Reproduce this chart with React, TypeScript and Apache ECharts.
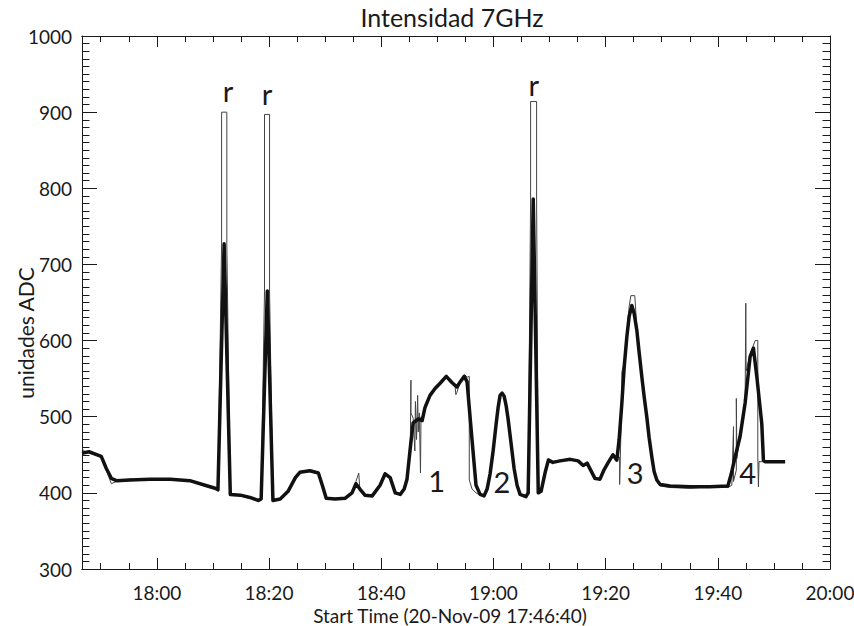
import React, { useEffect, useRef } from "react";
import * as echarts from "echarts";

// Time in minutes after 17:00 (20-Nov-09); axis spans 17:46:40 .. 20:00
const smoothMinutes = [
  46.67, 47.9, 50.1, 51.0, 51.9, 52.8, 55.2, 58.8, 62.4, 65.9,
  68.6, 70.4, 70.9, 72.0, 73.1, 74.9, 76.6, 78.1, 78.6, 79.7,
  80.7, 82.0, 83.4, 84.7, 85.5, 87.3, 88.8, 89.5, 90.2, 91.8,
  93.6, 94.8, 95.5, 96.2, 97.1, 98.4, 99.8, 100.7, 101.6, 102.5,
  103.4, 104.1, 104.6, 105.2, 105.7, 106.6, 107.3, 107.8, 108.7, 109.6,
  110.5, 111.6, 112.6, 113.5, 114.1, 114.8, 115.3, 116.2, 116.9, 117.63,
  118.34, 118.88, 119.41, 119.95, 120.48, 120.84, 121.19, 121.55, 121.91, 122.26,
  122.62, 123.15, 123.69, 124.22, 124.76, 125.8, 126.2, 127.1, 128.0, 128.5,
  129.2, 129.8, 130.6, 131.9, 133.7, 135.1, 136.0, 136.7, 138.1, 139.0,
  139.7, 140.4, 141.3, 142.0, 142.41, 142.9, 143.31, 143.79, 144.2, 144.67,
  145.08, 145.56, 145.97, 146.45, 146.86, 147.34, 147.75, 148.24, 148.65, 149.13,
  149.72, 151.5, 155.1, 158.6, 161.8, 162.4, 163.08, 163.97, 164.87, 165.76,
  166.35, 166.95, 167.84, 168.13, 168.43, 172.0,
];
const smoothValues = [
  452, 454, 448, 432, 419, 416, 417, 418, 418, 416,
  410, 406, 404, 727, 398, 397, 394, 390, 392, 665,
  390, 392, 402, 420, 427, 429, 426, 410, 393, 392,
  393, 400, 412, 405, 397, 396, 410, 425, 420, 400,
  398, 405, 418, 460, 492, 497, 495, 512, 528, 537,
  544, 553, 545, 539, 546, 553, 546, 469, 410, 398,
  396, 405, 425, 455, 490, 512, 528, 531, 527, 515,
  497, 465, 432, 410, 398, 395, 400, 786, 400, 402,
  426, 443, 440, 442, 444, 442, 436, 439, 419, 418,
  430, 439, 450, 443, 470, 518, 565, 605, 632, 646,
  636, 614, 585, 553, 527, 500, 473, 447, 428, 417,
  411, 409, 408, 408, 409, 425, 447, 474, 518, 579,
  590, 553, 491, 443, 441, 441,
];

const rawMinutes = [
  46.67, 47.5, 48.0, 50.1, 51.0, 51.9, 52.8, 55.2, 58.8, 62.4,
  65.9, 68.6, 70.4, 70.9, 71.55, 71.55, 72.48, 72.48, 73.1, 74.9,
  76.6, 78.1, 78.6, 79.2, 79.2, 80.1, 80.1, 80.7, 82.0, 83.4,
  84.7, 85.5, 87.3, 88.8, 89.5, 90.2, 91.8, 93.6, 94.8, 95.5,
  96.0, 96.2, 97.1, 98.4, 99.8, 100.7, 101.6, 102.5, 103.4, 104.1,
  104.6, 105.2, 105.3, 105.3, 105.7, 106.0, 106.1, 106.3, 106.5, 106.6,
  106.8, 107.0, 107.1, 107.3, 107.8, 108.7, 109.6, 110.5, 111.6, 112.6,
  113.2, 113.3, 113.5, 114.1, 114.8, 115.4, 115.7, 115.7, 116.2, 116.9,
  117.63, 118.34, 118.88, 119.41, 119.95, 120.48, 120.84, 121.19, 121.55, 121.91,
  122.26, 122.62, 123.15, 123.69, 124.22, 124.76, 125.8, 126.2, 126.63, 126.63,
  127.7, 127.7, 128.0, 128.5, 129.2, 129.8, 130.6, 131.9, 133.7, 135.1,
  136.0, 136.7, 138.1, 139.0, 139.7, 140.4, 141.3, 142.0, 142.5, 142.5,
  142.7, 142.9, 142.9, 143.31, 143.79, 144.2, 144.5, 145.2, 145.56, 145.97,
  146.45, 146.86, 147.34, 147.75, 148.24, 148.65, 149.13, 149.72, 151.5, 155.1,
  158.6, 161.8, 162.5, 162.8, 162.8, 163.3, 163.3, 163.4, 163.97, 164.87,
  164.99, 165.05, 165.76, 166.65, 167.13, 167.13, 167.24, 167.24, 167.35, 172.0,
];
const rawValues = [
  458, 452, 455, 446, 430, 412, 415, 418, 417, 419,
  415, 409, 405, 404, 727, 900, 900, 727, 398, 396,
  393, 389, 392, 665, 897, 897, 665, 389, 391, 404,
  422, 428, 430, 425, 408, 392, 393, 392, 401, 415,
  426, 404, 396, 397, 411, 427, 419, 399, 397, 404,
  420, 470, 548, 505, 498, 455, 520, 470, 528, 480,
  505, 426, 500, 493, 515, 530, 536, 545, 552, 546,
  538, 529, 532, 547, 555, 552, 553, 417, 405, 400,
  397, 396, 406, 427, 457, 492, 514, 530, 532, 526,
  513, 495, 463, 430, 408, 397, 396, 402, 786, 914,
  914, 786, 402, 404, 428, 445, 441, 443, 445, 441,
  435, 440, 417, 419, 432, 440, 452, 445, 447, 411,
  470, 518, 559, 570, 608, 645, 659, 659, 618, 588,
  555, 529, 500, 471, 445, 426, 415, 409, 407, 406,
  408, 407, 410, 487, 415, 430, 524, 445, 476, 520,
  649, 560, 582, 600, 600, 447, 447, 408, 441, 440,
];

const xMajorTicks = [60, 80, 100, 120, 140, 160, 180];
const xMinorTicks = [50, 55, 65, 70, 75, 85, 90, 95, 105, 110, 115, 125, 130, 135, 145, 150, 155, 165, 170, 175];

const noteTexts = ["r", "r", "r", "1", "2", "3", "4"];
const noteMinutes = [72.71, 79.63, 127.2, 109.9, 121.5, 145.26, 165.3];
const noteValues = [929, 924, 936, 416, 415, 427, 427];

const X_MIN = 46 + 2 / 3;
const X_MAX = 180;
const FONT = "Lato";
const INK = "#1a1a1a";

const fmtTime = (v: number) => {
  const h = 17 + Math.floor(v / 60);
  const m = Math.round(v % 60);
  return `${h}:${m < 10 ? "0" + m : m}`;
};

export default function App() {
  const ref = useRef<HTMLDivElement>(null);
  useEffect(() => {
    if (!ref.current) return;
    const chart = echarts.init(ref.current, null, { renderer: "svg" });
    const smooth = smoothMinutes.map((t, i) => [t, smoothValues[i]]);
    const raw = rawMinutes.map((t, i) => [t, rawValues[i]]);
    const baseX = {
      type: "value" as const,
      min: X_MIN,
      max: X_MAX,
      splitLine: { show: false },
      axisLine: { show: true, onZero: false, lineStyle: { color: INK, width: 1 } },
    };
    const majorTick = { show: true, inside: true, length: 11, customValues: xMajorTicks, lineStyle: { color: INK } };
    const minorTick = { show: true, inside: true, length: 6, customValues: xMinorTicks, lineStyle: { color: INK } };
    const baseY = {
      type: "value" as const,
      min: 300,
      max: 1000,
      interval: 100,
      splitLine: { show: false },
      axisLine: { show: true, onZero: false, lineStyle: { color: INK, width: 1 } },
      axisTick: { show: true, inside: true, length: 15, lineStyle: { color: INK } },
      minorTick: { show: true, splitNumber: 10, length: 7.5, lineStyle: { color: INK } },
    };
    chart.setOption({
      animation: false,
      backgroundColor: "#ffffff",
      grid: { left: 82, right: 24, top: 36, bottom: 57, containLabel: false, outerBoundsMode: "none" },
      graphic: [
        {
          type: "text",
          x: 452,
          y: 17,
          style: {
            text: "Intensidad 7GHz",
            fontFamily: FONT,
            fontSize: 25,
            fill: INK,
            align: "center",
            verticalAlign: "middle",
          },
        },
        {
          type: "text",
          x: 450,
          y: 615,
          style: {
            text: "Start Time (20-Nov-09 17:46:40)",
            fontFamily: FONT,
            fontSize: 19,
            fill: INK,
            align: "center",
            verticalAlign: "middle",
          },
        },
        {
          type: "text",
          x: 25,
          y: 333,
          rotation: Math.PI / 2,
          style: {
            text: "unidades ADC",
            fontFamily: FONT,
            fontSize: 21,
            fill: INK,
            align: "center",
            verticalAlign: "middle",
          },
        },
      ],
      xAxis: [
        {
          ...baseX,
          position: "bottom",
          axisTick: majorTick,
          axisLabel: {
            show: true,
            customValues: xMajorTicks,
            formatter: (v: number) => fmtTime(v),
            fontFamily: FONT,
            fontSize: 19,
            color: INK,
            margin: 14,
          },
        },
        { ...baseX, position: "bottom", axisTick: minorTick, axisLabel: { show: false } },
        { ...baseX, position: "top", axisTick: majorTick, axisLabel: { show: false } },
        { ...baseX, position: "top", axisTick: minorTick, axisLabel: { show: false } },
      ],
      yAxis: [
        {
          ...baseY,
          position: "left",
          axisLabel: {
            show: true,
            formatter: (v: number) => String(v),
            fontFamily: FONT,
            fontSize: 19,
            color: INK,
            margin: 10,
          },
        },
        { ...baseY, position: "right", axisLabel: { show: false } },
      ],
      series: [
        {
          type: "line",
          data: raw,
          xAxisIndex: 0,
          yAxisIndex: 0,
          showSymbol: false,
          symbol: "none",
          lineStyle: { color: "#444444", width: 1 },
          z: 2,
        },
        {
          type: "line",
          data: smooth,
          xAxisIndex: 0,
          yAxisIndex: 0,
          showSymbol: false,
          symbol: "none",
          lineStyle: { color: "#111111", width: 3.5, join: "round" },
          z: 3,
          markPoint: {
            symbol: "rect",
            symbolSize: 1,
            itemStyle: { color: "rgba(0,0,0,0)" },
            label: {
              show: true,
              position: "inside",
              formatter: (p: any) => p.name,
              fontFamily: FONT,
              fontSize: 29,
              color: INK,
            },
            data: noteTexts.map((s, i) => ({ name: s, coord: [noteMinutes[i], noteValues[i]] })),
          },
        },
      ],
    });
    return () => chart.dispose();
  }, []);
  return <div ref={ref} style={{ position: "fixed", left: 0, top: 0, width: 854, height: 626 }} />;
}
